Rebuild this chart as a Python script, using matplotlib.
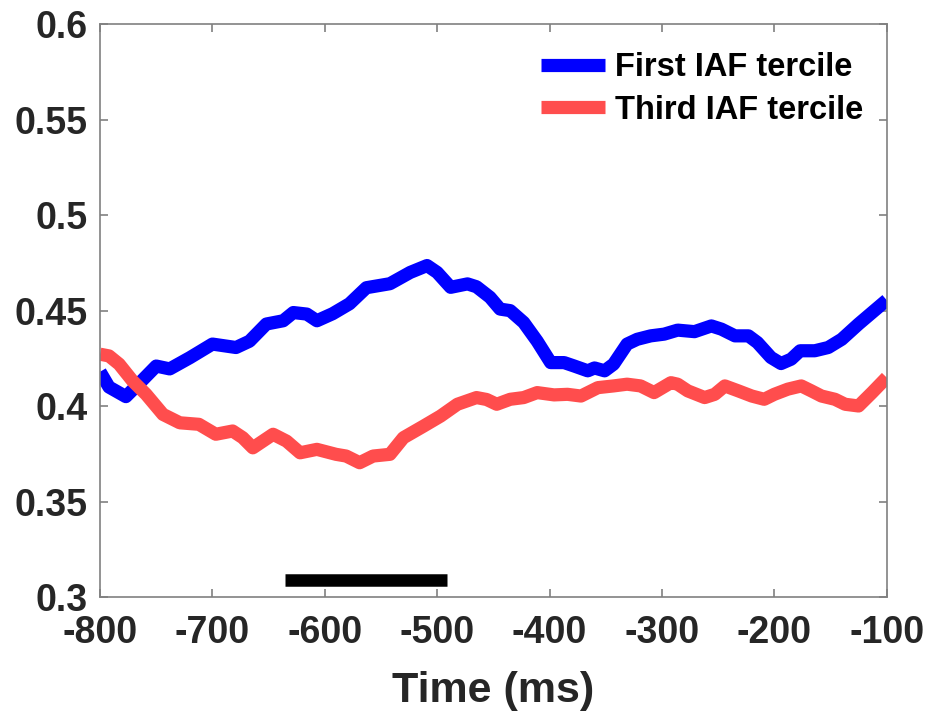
import matplotlib
matplotlib.use("Agg")
import matplotlib.pyplot as plt

plt.rcParams['font.family'] = ['Liberation Sans', 'DejaVu Sans']
plt.rcParams['font.weight'] = 'bold'
plt.rcParams['axes.unicode_minus'] = False

# Time axis (ms) and the two tercile curves
first_t = [-800, -792, -777, -765, -750, -738, -720, -700, -679, -667, -652, -637,
           -628, -616, -607, -593, -578, -563, -542, -524, -509, -500, -488, -473,
           -465, -453, -444, -435, -423, -411, -399, -387, -378, -366, -360, -351,
           -343, -331, -322, -310, -298, -286, -271, -256, -247, -235, -223, -215,
           -203, -194, -185, -177, -164, -152, -140, -125, -113, -100]
first_v = [0.418, 0.410, 0.405, 0.412, 0.421, 0.4195, 0.4254, 0.4325, 0.4307, 0.434,
           0.443, 0.4447, 0.449, 0.4482, 0.4447, 0.4484, 0.4536, 0.462, 0.4641, 0.470,
           0.4736, 0.470, 0.4622, 0.464, 0.4625, 0.457, 0.4508, 0.450, 0.4438, 0.434,
           0.4228, 0.4228, 0.421, 0.4185, 0.420, 0.4185, 0.422, 0.4325, 0.435, 0.4368,
           0.4377, 0.4398, 0.439, 0.442, 0.4403, 0.4368, 0.4368, 0.4333, 0.4255, 0.4223,
           0.4246, 0.429, 0.429, 0.4307, 0.435, 0.443, 0.449, 0.4555]

third_t = [-800, -792, -783, -771, -759, -744, -729, -712, -697, -682, -673, -664,
           -646, -634, -622, -607, -590, -581, -569, -557, -542, -530, -512, -497,
           -482, -465, -456, -447, -435, -423, -411, -396, -384, -372, -357, -343,
           -331, -319, -307, -292, -286, -277, -262, -253, -244, -232, -220, -209,
           -200, -188, -176, -167, -158, -146, -137, -125, -113, -100]
third_v = [0.4272, 0.4263, 0.422, 0.4132, 0.4062, 0.3957, 0.3913, 0.3905, 0.3853, 0.387,
           0.3835, 0.3782, 0.3853, 0.3817, 0.3756, 0.3774, 0.3748, 0.3739, 0.3704, 0.3739,
           0.3748, 0.3835, 0.3896, 0.3948, 0.401, 0.4045, 0.4035, 0.401, 0.4036, 0.4045,
           0.4071, 0.4059, 0.4062, 0.4053, 0.4097, 0.4106, 0.4115, 0.4106, 0.4071, 0.4123,
           0.4115, 0.408, 0.4045, 0.4062, 0.4106, 0.408, 0.4053, 0.4036, 0.4062, 0.4089,
           0.4106, 0.408, 0.4053, 0.4036, 0.401, 0.4001, 0.4071, 0.415]

# Significant interval marker
sig_start, sig_end, sig_y = -635, -491, 0.309

labels = ['First IAF tercile', 'Third IAF tercile']
xticks = [-800, -700, -600, -500, -400, -300, -200, -100]
yticks = [0.3, 0.35, 0.4, 0.45, 0.5, 0.55, 0.6]
ytick_labels = ['0.3', '0.35', '0.4', '0.45', '0.5', '0.55', '0.6']

fig = plt.figure(figsize=(9.27, 7.11), dpi=100)
ax = fig.add_axes([0.1079, 0.160, 0.8486, 0.8062])

ax.plot(first_t, first_v, color='#0000FF', lw=9.5, solid_capstyle='butt',
        solid_joinstyle='round', label=labels[0])
ax.plot(third_t, third_v, color='#FF4D4D', lw=9.5, solid_capstyle='butt',
        solid_joinstyle='round', label=labels[1])
ax.plot([sig_start, sig_end], [sig_y, sig_y], color='black', lw=9,
        solid_capstyle='butt')

ax.set_xlim(-800, -100)
ax.set_ylim(0.3, 0.6)
ax.set_xticks(xticks)
ax.set_yticks(yticks)
ax.set_yticklabels(ytick_labels)

for s in ax.spines.values():
    s.set_color('#808080')
    s.set_linewidth(1.2)
ax.tick_params(direction='in', length=6, width=1.2, color='#808080',
               labelsize=27, labelcolor='#262626', top=True, right=True)
ax.tick_params(axis='y', pad=9)
ax.tick_params(axis='x', pad=13)
for lab in ax.get_xticklabels() + ax.get_yticklabels():
    lab.set_fontweight('bold')

ax.set_xlabel('Time (ms)', fontsize=31, fontweight='bold', color='#262626',
              labelpad=14)

leg = ax.legend(loc='upper right', frameon=False, fontsize=23.5,
                handlelength=1.95, handletextpad=0.3, labelspacing=0.35,
                borderaxespad=0.2, bbox_to_anchor=(0.995, 0.985))
for t in leg.get_texts():
    t.set_fontweight('bold')
    t.set_color('black')

fig.savefig('out.png', dpi=100, facecolor='white')
